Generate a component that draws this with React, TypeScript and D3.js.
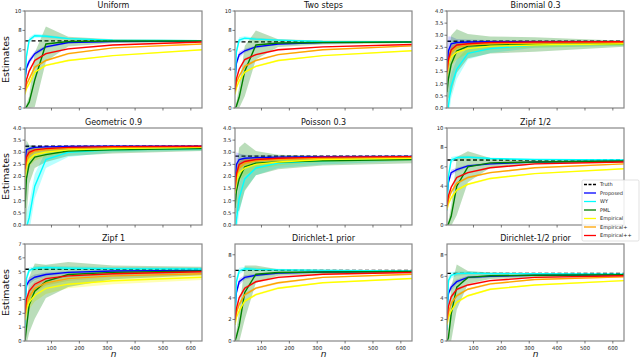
import React, { useEffect, useRef } from 'react'
import * as d3 from 'd3'

// sample sizes where the estimators were evaluated
const nValues = [5, 10, 20, 40, 80, 160, 320, 640]
const seriesNames = ['Proposed', 'WY', 'PML', 'Empirical', 'Empirical+', 'Empirical++']
const seriesColors = ['#0000ff', '#00ffff', '#008000', '#ffff00', '#ffa500', '#ff0000']
const bandColors = ['rgba(0,0,255,0.2)', 'rgba(0,255,255,0.28)', 'rgba(0,128,0,0.27)', 'rgba(255,255,0,0.3)', 'rgba(255,165,0,0.25)', 'rgba(255,0,0,0.15)']

const panelTitles = ['Uniform', 'Two steps', 'Binomial 0.3', 'Geometric 0.9', 'Poisson 0.3', 'Zipf 1/2', 'Zipf 1', 'Dirichlet-1 prior', 'Dirichlet-1/2 prior']
const truthValues = [6.92, 6.82, 2.75, 3.25, 2.84, 6.7, 5.18, 6.55, 6.27]
const yMaxValues = [10, 10, 4, 4, 4, 10, 7, 9, 9]
const yTickSets = [
  [0, 2, 4, 6, 8, 10], [0, 2, 4, 6, 8, 10],
  [0, 0.5, 1, 1.5, 2, 2.5, 3, 3.5, 4], [0, 0.5, 1, 1.5, 2, 2.5, 3, 3.5, 4], [0, 0.5, 1, 1.5, 2, 2.5, 3, 3.5, 4],
  [0, 2, 4, 6, 8, 10], [0, 1, 2, 3, 4, 5, 6, 7], [0, 2, 4, 6, 8], [0, 2, 4, 6, 8],
]
const xTickValues = [100, 200, 300, 400, 500, 600]

// mean estimates, rows in seriesNames order
const uniformMean = [
  [2.9, 4.1, 4.8, 5.6, 6.3, 6.75, 6.85, 6.9],
  [2.7, 5.3, 7.0, 7.45, 7.4, 7.15, 7.0, 6.95],
  [0, 0.1, 0.6, 2.9, 6.6, 6.85, 6.9, 6.9],
  [1.4, 2.0, 2.5, 3.7, 4.4, 4.9, 5.4, 6.0],
  [1.6, 2.4, 3.0, 4.2, 4.9, 5.6, 6.2, 6.6],
  [1.8, 2.9, 3.8, 4.9, 5.6, 6.1, 6.5, 6.8],
]
const uniformSpread = [
  [0.3, 0.3, 0.3, 0.25, 0.15, 0.1, 0.05, 0.05],
  [0.4, 0.4, 0.3, 0.2, 0.15, 0.1, 0.05, 0.05],
  [0, 0.3, 0.6, 2.8, 1.8, 0.5, 0.2, 0.1],
  [0.2, 0.2, 0.2, 0.15, 0.1, 0.1, 0.05, 0.05],
  [0.2, 0.2, 0.2, 0.15, 0.1, 0.1, 0.05, 0.05],
  [0.2, 0.2, 0.2, 0.15, 0.1, 0.1, 0.05, 0.05],
]
const twoStepsMean = [
  [2.8, 4.6, 5.5, 5.9, 6.3, 6.6, 6.75, 6.8],
  [2.5, 5.8, 7.0, 7.2, 7.1, 7.0, 6.85, 6.8],
  [0, 0.2, 1.1, 3.8, 6.5, 6.7, 6.75, 6.8],
  [1.4, 2.1, 2.8, 3.7, 4.3, 4.9, 5.4, 5.9],
  [1.6, 2.6, 3.3, 4.3, 4.9, 5.5, 6.0, 6.4],
  [1.8, 3.0, 4.0, 5.0, 5.5, 6.0, 6.3, 6.55],
]
const twoStepsSpread = [
  [0.3, 0.3, 0.3, 0.2, 0.15, 0.1, 0.05, 0.05],
  [0.4, 0.4, 0.3, 0.2, 0.15, 0.1, 0.05, 0.05],
  [0, 0.4, 1.1, 2.6, 1.5, 0.4, 0.2, 0.1],
  [0.2, 0.2, 0.2, 0.15, 0.1, 0.1, 0.05, 0.05],
  [0.2, 0.2, 0.2, 0.15, 0.1, 0.1, 0.05, 0.05],
  [0.2, 0.2, 0.2, 0.15, 0.1, 0.1, 0.05, 0.05],
]
const binomialMean = [
  [1.6, 2.35, 2.65, 2.7, 2.72, 2.73, 2.73, 2.73],
  [-0.5, 0.1, 0.9, 1.6, 2.25, 2.45, 2.6, 2.65],
  [0.65, 1.2, 1.8, 2.35, 2.55, 2.6, 2.62, 2.65],
  [1.3, 1.8, 2.1, 2.3, 2.45, 2.55, 2.6, 2.65],
  [1.4, 1.9, 2.3, 2.5, 2.6, 2.65, 2.68, 2.7],
  [1.5, 2.0, 2.4, 2.6, 2.65, 2.7, 2.72, 2.73],
]
const binomialSpread = [
  [0.7, 0.6, 0.3, 0.15, 0.1, 0.07, 0.05, 0.04],
  [0.5, 0.6, 0.5, 0.4, 0.25, 0.18, 0.12, 0.08],
  [0.5, 0.8, 1.2, 0.9, 0.5, 0.35, 0.3, 0.12],
  [0.4, 0.4, 0.35, 0.3, 0.2, 0.15, 0.1, 0.07],
  [0.35, 0.3, 0.25, 0.2, 0.13, 0.1, 0.07, 0.05],
  [0.3, 0.25, 0.2, 0.12, 0.08, 0.06, 0.05, 0.04],
]
const geometricMean = [
  [2.6, 3.1, 3.15, 3.2, 3.22, 3.24, 3.25, 3.25],
  [-0.8, -0.1, 0.3, 1.6, 2.7, 3.0, 3.1, 3.15],
  [0.7, 1.9, 2.5, 2.8, 2.9, 3.05, 3.1, 3.15],
  [1.9, 2.4, 2.7, 2.9, 3.0, 3.1, 3.15, 3.2],
  [2.1, 2.6, 2.9, 3.05, 3.1, 3.15, 3.2, 3.22],
  [2.3, 2.8, 3.0, 3.1, 3.15, 3.2, 3.23, 3.25],
]
const geometricSpread = [
  [0.4, 0.25, 0.12, 0.08, 0.06, 0.05, 0.04, 0.03],
  [0.5, 0.6, 0.6, 0.5, 0.35, 0.2, 0.1, 0.08],
  [1.5, 1.6, 0.8, 0.45, 0.3, 0.2, 0.15, 0.1],
  [0.4, 0.4, 0.3, 0.25, 0.18, 0.12, 0.08, 0.06],
  [0.35, 0.3, 0.25, 0.18, 0.12, 0.08, 0.06, 0.05],
  [0.3, 0.2, 0.15, 0.1, 0.08, 0.06, 0.05, 0.04],
]
const poissonMean = [
  [1.8, 2.5, 2.7, 2.75, 2.78, 2.8, 2.82, 2.83],
  [-0.5, 0.2, 1.1, 1.9, 2.35, 2.55, 2.65, 2.75],
  [0.7, 1.4, 1.9, 2.4, 2.55, 2.6, 2.65, 2.7],
  [1.3, 1.8, 2.15, 2.35, 2.5, 2.6, 2.7, 2.75],
  [1.4, 2.0, 2.35, 2.55, 2.65, 2.7, 2.75, 2.8],
  [1.5, 2.1, 2.5, 2.62, 2.7, 2.75, 2.8, 2.82],
]
const poissonSpread = [
  [0.8, 0.5, 0.25, 0.15, 0.1, 0.07, 0.05, 0.04],
  [0.5, 0.6, 0.6, 0.45, 0.3, 0.2, 0.15, 0.1],
  [0.6, 0.9, 1.3, 1.0, 0.5, 0.3, 0.2, 0.15],
  [0.4, 0.4, 0.35, 0.3, 0.2, 0.15, 0.1, 0.08],
  [0.35, 0.3, 0.25, 0.2, 0.13, 0.1, 0.07, 0.05],
  [0.3, 0.25, 0.2, 0.12, 0.08, 0.06, 0.05, 0.04],
]
const zipfHalfMean = [
  [3.0, 4.4, 5.4, 5.7, 6.1, 6.3, 6.5, 6.6],
  [1.5, 5.0, 6.7, 6.95, 7.0, 6.85, 6.75, 6.7],
  [0, 0.1, 0.9, 4.0, 6.0, 6.4, 6.5, 6.6],
  [1.6, 2.2, 2.8, 3.6, 4.2, 4.8, 5.3, 5.8],
  [1.8, 2.6, 3.4, 4.3, 4.9, 5.4, 5.9, 6.3],
  [2.0, 3.0, 3.9, 4.9, 5.4, 5.9, 6.3, 6.5],
]
const zipfHalfSpread = [
  [0.3, 0.3, 0.3, 0.2, 0.15, 0.1, 0.05, 0.05],
  [0.4, 0.4, 0.3, 0.2, 0.15, 0.1, 0.05, 0.05],
  [0, 0.3, 1.0, 3.0, 1.6, 0.5, 0.2, 0.1],
  [0.2, 0.2, 0.2, 0.15, 0.1, 0.1, 0.05, 0.05],
  [0.2, 0.2, 0.2, 0.15, 0.1, 0.1, 0.05, 0.05],
  [0.2, 0.2, 0.2, 0.15, 0.1, 0.1, 0.05, 0.05],
]
const zipfOneMean = [
  [2.8, 4.0, 4.35, 4.6, 4.8, 4.95, 5.05, 5.1],
  [1.0, 4.5, 5.1, 5.25, 5.3, 5.25, 5.22, 5.2],
  [0, 0.9, 2.6, 3.6, 4.3, 4.8, 4.95, 5.05],
  [1.5, 2.3, 2.8, 3.3, 3.8, 4.1, 4.35, 4.6],
  [1.7, 2.6, 3.2, 3.8, 4.2, 4.5, 4.7, 4.85],
  [2.0, 3.0, 3.6, 4.1, 4.5, 4.7, 4.85, 5.0],
]
const zipfOneSpread = [
  [0.3, 0.3, 0.25, 0.2, 0.15, 0.1, 0.08, 0.05],
  [0.4, 0.3, 0.2, 0.15, 0.15, 0.15, 0.12, 0.1],
  [0, 1.2, 2.0, 2.0, 1.2, 0.9, 0.5, 0.3],
  [0.5, 0.5, 0.5, 0.45, 0.4, 0.3, 0.25, 0.2],
  [0.3, 0.3, 0.3, 0.25, 0.2, 0.15, 0.1, 0.1],
  [0.3, 0.3, 0.25, 0.2, 0.15, 0.1, 0.08, 0.05],
]
const dirichletOneMean = [
  [2.8, 4.5, 5.5, 5.9, 6.1, 6.3, 6.4, 6.45],
  [1.5, 5.5, 6.5, 6.7, 6.65, 6.6, 6.55, 6.5],
  [0, 0.4, 1.4, 4.5, 6.2, 6.35, 6.4, 6.45],
  [1.5, 2.2, 2.8, 3.7, 4.3, 4.9, 5.4, 5.8],
  [1.7, 2.6, 3.4, 4.3, 4.9, 5.4, 5.9, 6.2],
  [2.0, 3.0, 4.0, 4.9, 5.5, 5.9, 6.2, 6.35],
]
const dirichletOneSpread = [
  [0.3, 0.3, 0.3, 0.2, 0.15, 0.1, 0.05, 0.05],
  [0.4, 0.4, 0.3, 0.2, 0.15, 0.1, 0.05, 0.05],
  [0, 0.5, 1.5, 2.5, 0.8, 0.3, 0.2, 0.1],
  [0.2, 0.2, 0.2, 0.15, 0.1, 0.1, 0.05, 0.05],
  [0.2, 0.2, 0.2, 0.15, 0.1, 0.1, 0.05, 0.05],
  [0.2, 0.2, 0.2, 0.15, 0.1, 0.1, 0.05, 0.05],
]
const dirichletHalfMean = [
  [2.8, 4.4, 5.0, 5.5, 5.9, 6.0, 6.1, 6.15],
  [1.0, 5.6, 6.1, 6.25, 6.3, 6.25, 6.25, 6.2],
  [0, 0.3, 2.5, 5.0, 5.9, 6.05, 6.1, 6.15],
  [1.5, 2.2, 2.8, 3.6, 4.2, 4.8, 5.2, 5.6],
  [1.7, 2.6, 3.5, 4.2, 4.8, 5.3, 5.7, 5.95],
  [2.0, 3.2, 4.1, 4.8, 5.2, 5.6, 5.9, 6.05],
]
const dirichletHalfSpread = [
  [0.3, 0.3, 0.3, 0.2, 0.15, 0.1, 0.05, 0.05],
  [0.4, 0.4, 0.3, 0.2, 0.15, 0.1, 0.05, 0.05],
  [0, 0.5, 2.5, 2.1, 0.6, 0.3, 0.2, 0.1],
  [0.2, 0.2, 0.2, 0.15, 0.1, 0.1, 0.05, 0.05],
  [0.2, 0.2, 0.2, 0.15, 0.1, 0.1, 0.05, 0.05],
  [0.2, 0.2, 0.2, 0.15, 0.1, 0.1, 0.05, 0.05],
]

const panelMeans = [uniformMean, twoStepsMean, binomialMean, geometricMean, poissonMean, zipfHalfMean, zipfOneMean, dirichletOneMean, dirichletHalfMean]
const panelSpreads = [uniformSpread, twoStepsSpread, binomialSpread, geometricSpread, poissonSpread, zipfHalfSpread, zipfOneSpread, dirichletOneSpread, dirichletHalfSpread]

export default function App() {
  const svgRef = useRef<SVGSVGElement>(null)

  useEffect(() => {
    const width = 640, height = 360
    const svg = d3.select(svgRef.current).attr('width', width).attr('height', height)
    svg.selectAll('*').remove()
    const font = 'DejaVu Sans, sans-serif'

    const colX = [25, 235, 447], rowY = [11, 128, 244]
    const pw = 177, ph = 97

    panelTitles.forEach((title, p) => {
      const col = p % 3, row = Math.floor(p / 3)
      const g = svg.append('g').attr('transform', `translate(${colX[col]},${rowY[row]})`)
      const x = d3.scaleLinear().domain([5, 640]).range([0, pw])
      const y = d3.scaleLinear().domain([0, yMaxValues[p]]).range([ph, 0])

      const clipId = `clip${p}`
      g.append('clipPath').attr('id', clipId).append('rect').attr('width', pw).attr('height', ph)
      const plot = g.append('g').attr('clip-path', `url(#${clipId})`)

      // truth
      plot.append('line').attr('x1', 0).attr('x2', pw).attr('y1', y(truthValues[p])).attr('y2', y(truthValues[p]))
        .attr('stroke', '#000').attr('stroke-width', 1.4).attr('stroke-dasharray', '4,2.5')

      const means = panelMeans[p], spreads = panelSpreads[p]
      // bands first (PML last so it sits above)
      ;[0, 1, 3, 4, 5, 2].forEach(s => {
        const area = d3.area<number>().x((_, i) => x(nValues[i]))
          .y0((m, i) => y(m - spreads[s][i])).y1((m, i) => y(m + spreads[s][i]))
        plot.append('path').attr('d', area(means[s])).attr('fill', bandColors[s]).attr('stroke', 'none')
      })
      ;[0, 1, 2, 3, 4, 5].forEach(s => {
        const line = d3.line<number>().x((_, i) => x(nValues[i])).y(m => y(m))
        plot.append('path').attr('d', line(means[s])).attr('fill', 'none')
          .attr('stroke', seriesColors[s]).attr('stroke-width', 1.4)
      })

      // frame
      g.append('rect').attr('width', pw).attr('height', ph).attr('fill', 'none').attr('stroke', '#888').attr('stroke-width', 1.2)

      // y ticks
      const fmt = yMaxValues[p] === 4 ? d3.format('.1f') : d3.format('d')
      yTickSets[p].forEach(t => {
        g.append('line').attr('x1', -2.5).attr('x2', 0).attr('y1', y(t)).attr('y2', y(t)).attr('stroke', '#444').attr('stroke-width', 0.7)
        g.append('text').attr('x', -3.5).attr('y', y(t)).attr('dy', '0.35em').attr('text-anchor', 'end')
          .attr('font-size', 5.3).attr('font-family', font).attr('fill', '#222').text(fmt(t))
      })
      // x ticks
      xTickValues.forEach(t => {
        g.append('line').attr('x1', x(t)).attr('x2', x(t)).attr('y1', ph).attr('y2', ph + 2.5).attr('stroke', '#444').attr('stroke-width', 0.7)
        if (row === 2) {
          g.append('text').attr('x', x(t)).attr('y', ph + 8.5).attr('text-anchor', 'middle')
            .attr('font-size', 5.3).attr('font-family', font).attr('fill', '#222').text(t)
        }
      })

      g.append('text').attr('x', pw / 2).attr('y', -3).attr('text-anchor', 'middle')
        .attr('font-size', 8).attr('font-family', font).attr('fill', '#111').text(title)

      if (col === 0) {
        g.append('text').attr('transform', `translate(${-16},${ph / 2}) rotate(-90)`).attr('text-anchor', 'middle')
          .attr('font-size', 9.5).attr('font-family', font).attr('fill', '#111').text('Estimates')
      }
      if (row === 2) {
        g.append('text').attr('x', pw / 2).attr('y', ph + 16).attr('text-anchor', 'middle')
          .attr('font-size', 9).attr('font-style', 'italic').attr('font-family', font).attr('fill', '#111').text('n')
      }
    })

    // legend
    const lg = svg.append('g').attr('transform', 'translate(582,180)')
    lg.append('rect').attr('width', 57).attr('height', 61).attr('rx', 1.5)
      .attr('fill', 'rgba(255,255,255,0.85)').attr('stroke', '#ccc').attr('stroke-width', 0.6)
    const legendNames = ['Truth', ...seriesNames]
    const legendColors = ['#000', ...seriesColors]
    legendNames.forEach((name, i) => {
      const ly = 4.5 + i * 8.5
      lg.append('line').attr('x1', 2).attr('x2', 14).attr('y1', ly).attr('y2', ly)
        .attr('stroke', legendColors[i]).attr('stroke-width', 1.3).attr('stroke-dasharray', i === 0 ? '3,1.5' : null)
      lg.append('text').attr('x', 18).attr('y', ly).attr('dy', '0.35em').attr('font-size', 5)
        .attr('font-family', font).attr('fill', '#222').text(name)
    })
  }, [])

  return (
    <div style={{ position: 'absolute', left: 0, top: 0 }}>
      <svg ref={svgRef} style={{ display: 'block' }} />
    </div>
  )
}
